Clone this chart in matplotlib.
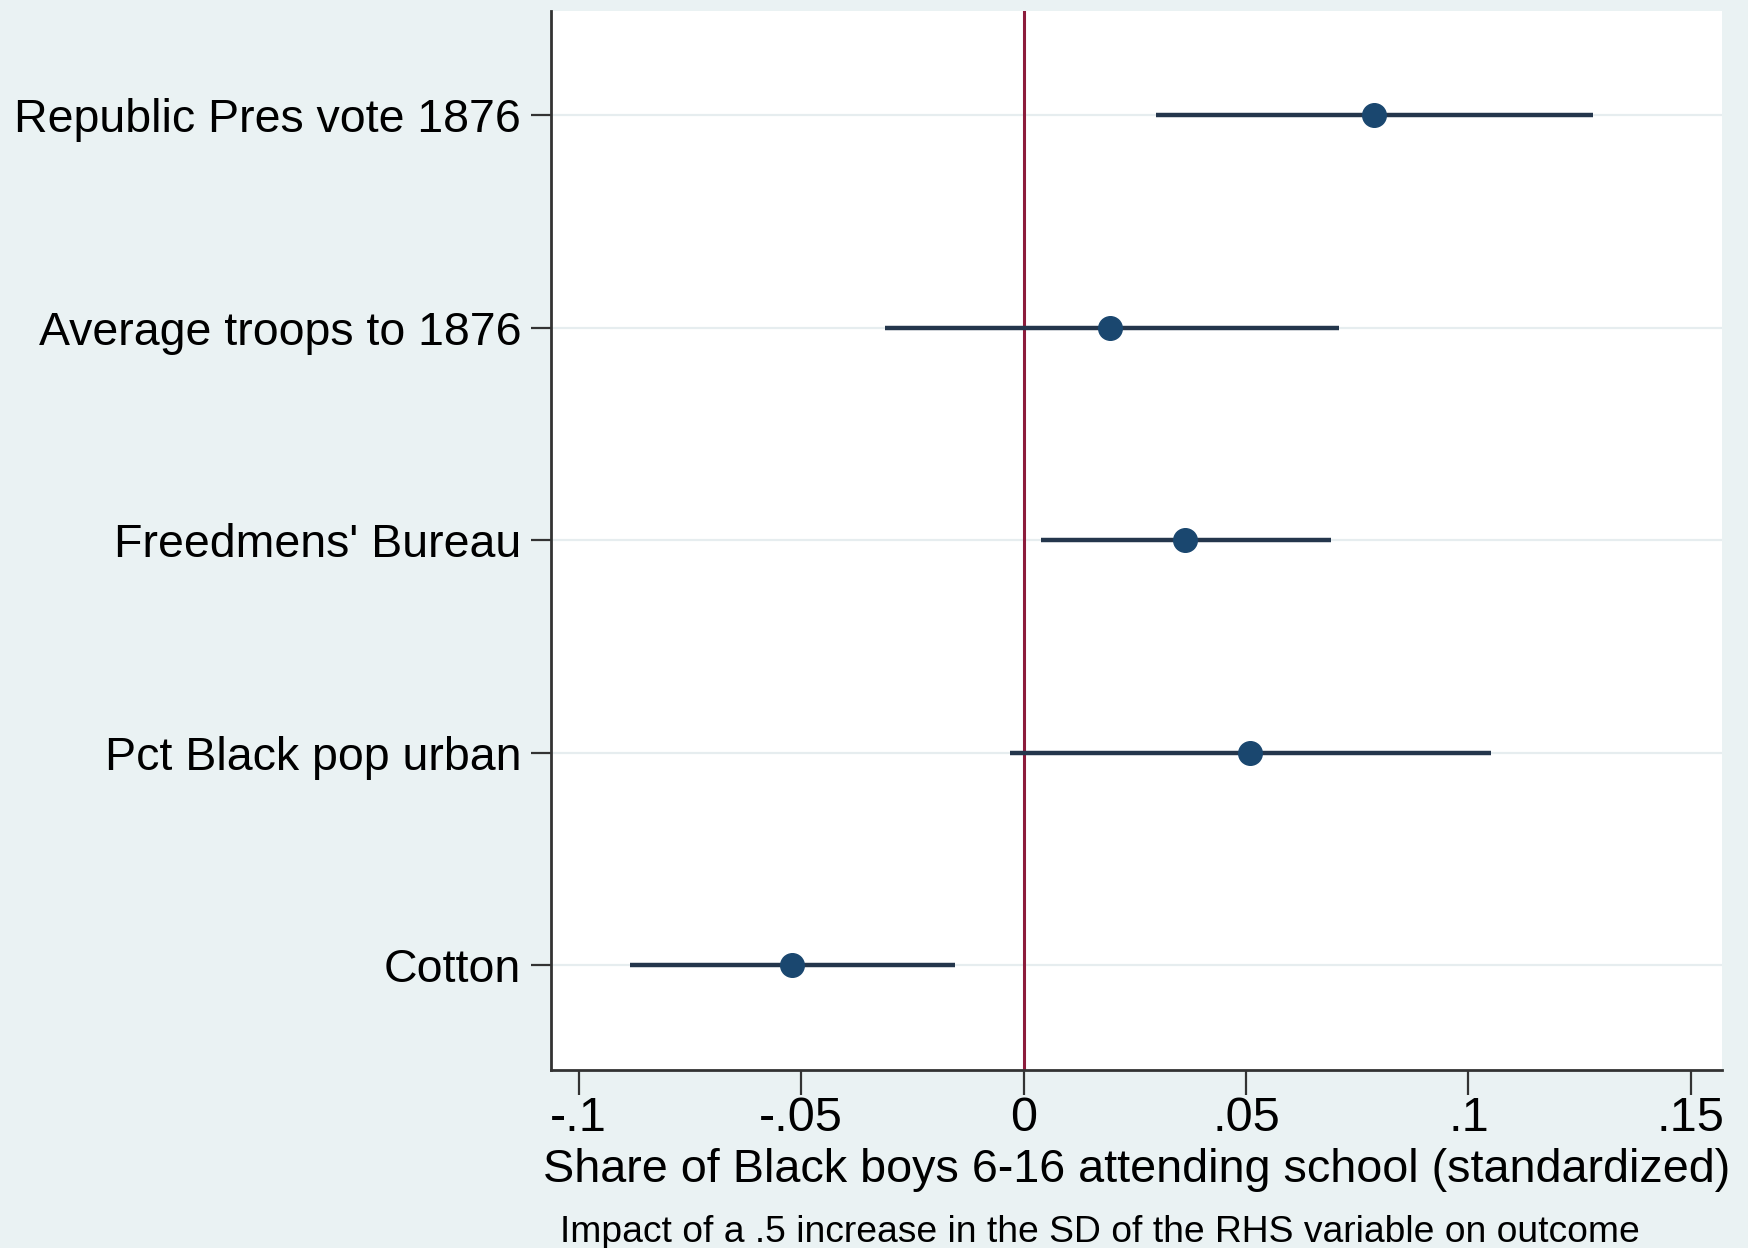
import matplotlib
matplotlib.use("Agg")
import matplotlib.pyplot as plt

# coefficient plot data
labels = ["Republic Pres vote 1876", "Average troops to 1876", "Freedmens' Bureau",
          "Pct Black pop urban", "Cotton"]
coef = [0.0788, 0.0195, 0.0363, 0.0508, -0.0520]
ci_lo = [0.0298, -0.0312, 0.0040, -0.0030, -0.0885]
ci_hi = [0.1280, 0.0708, 0.0690, 0.1050, -0.0155]
xticks = [-0.1, -0.05, 0, 0.05, 0.1, 0.15]
xtick_labels = ["-.1", "-.05", "0", ".05", ".1", ".15"]

bg = "#EAF2F3"
navy = "#1A476F"
dark = "#24364C"

plt.rcParams['font.family'] = ['Liberation Sans', 'DejaVu Sans']

fig = plt.figure(figsize=(17.48, 12.48), dpi=100, facecolor=bg)
ax = fig.add_axes([0.3152, 0.1426, 0.9851 - 0.3152, 0.9912 - 0.1426])
ax.set_facecolor("white")

ypos = list(range(len(labels), 0, -1))

for y in ypos:
    ax.axhline(y, color="#E6EDEF", lw=1.6, zorder=1)

ax.axvline(0, color="#8C1C3C", lw=2.2, zorder=2)

ax.hlines(ypos, ci_lo, ci_hi, color=dark, lw=3.2, zorder=3)
ax.plot(coef, ypos, "o", color=navy, markersize=17, zorder=4)

ax.set_xlim(-0.10625, 0.157)
ax.set_ylim(0.507, 5.49)
ax.set_yticks(ypos)
ax.set_yticklabels(labels, fontsize=33.5)
ax.set_xticks(xticks)
ax.set_xticklabels(xtick_labels, fontsize=35)

for s in ["top", "right"]:
    ax.spines[s].set_visible(False)
for s in ["left", "bottom"]:
    ax.spines[s].set_color("#333333")
    ax.spines[s].set_linewidth(2.0)

ax.tick_params(axis="y", length=14.4, width=1.6, pad=7, color="#333333")
ax.tick_params(axis="x", length=18, width=1.6, pad=1, color="#333333")

ax.set_xlabel("Share of Black boys 6-16 attending school (standardized)",
              fontsize=33.7, labelpad=5)
fig.text(0.3205, 1 - 1232 / 1248, "Impact of a .5 increase in the SD of the RHS variable on outcome",
         fontsize=26.8, ha="left", va="center")

fig.savefig("out.png", dpi=100, facecolor=bg)
